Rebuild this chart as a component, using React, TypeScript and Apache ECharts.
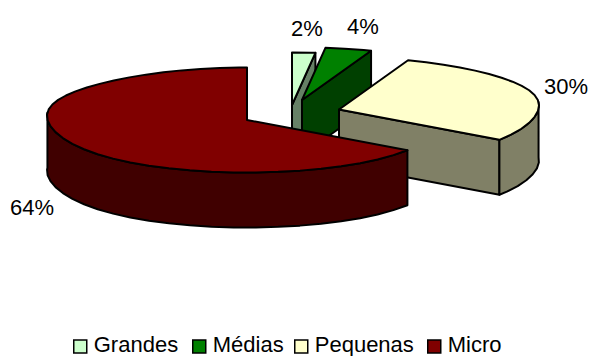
import React, { useEffect, useRef } from "react";
import * as echarts from "echarts";

const categories = ["Grandes", "Médias", "Pequenas", "Micro"];
const shares = [2, 4, 30, 64];
const shareLabels = ["2%", "4%", "30%", "64%"];

const topColors = ["#CCFFCC", "#008000", "#FFFFCC", "#800000"];
const wallColors = ["#668066", "#004000", "#808066", "#400000"];
const apexes = [[292, 105], [302, 100], [339, 109.5], [247, 120]];
const labelAnchors = [[307, 28], [363, 26], [566, 86], [32, 207]];
const legendLefts = [73, 192, 294, 427];
// A square that sits in the lower part of its box, as the reference's swatches sit below the text's centre.
const legendSwatch = "path://M0,0M0,5L13,5L13,18L0,18Z";

const RX = 200;
const RY = 52.5;
const DEPTH = 55;
const STEP = 6;

const total = shares.reduce((a, b) => a + b, 0);
const rad = (d: number) => (d * Math.PI) / 180;
// The reference's 3D projection compresses the angles slightly on the right side.
const warp = (d: number) => d - 3.8 * Math.sin(rad(d));

function rim(ax: number, ay: number, deg: number): number[] {
  const t = rad(warp(deg));
  const s = Math.sin(t);
  return [ax + RX * s, ay - RY * Math.cos(t) - 4 * Math.pow(s, 6)];
}

function arc(ax: number, ay: number, from: number, to: number): number[][] {
  const pts: number[][] = [];
  for (let d = from; d < to; d += STEP) pts.push(rim(ax, ay, d));
  pts.push(rim(ax, ay, to));
  return pts;
}

const down = (p: number[]) => [p[0], p[1] + DEPTH];

function renderSlice(index: number, value: number) {
  const before = shares.slice(0, index).reduce((a, b) => a + b, 0);
  const a0 = (before / total) * 360;
  const a1 = a0 + (value / total) * 360;
  const [ax, ay] = apexes[index];
  const apex = [ax, ay];
  const lineStyle = { stroke: "#000", lineWidth: 2, lineJoin: "round" };
  const children: any[] = [];
  const poly = (points: number[][], fill: string) =>
    children.push({ type: "polygon", shape: { points }, style: { fill, ...lineStyle } });

  if (a1 < 180) {
    const e = rim(ax, ay, a1);
    poly([apex, e, down(e), down(apex)], wallColors[index]);
  }
  const w0 = Math.max(a0, 90);
  const w1 = Math.min(a1, 270);
  if (w1 > w0) {
    const top = arc(ax, ay, w0, w1);
    poly([...top, ...top.map(down).reverse()], wallColors[index]);
  }
  poly([apex, ...arc(ax, ay, a0, a1)], topColors[index]);
  children.push({
    type: "text",
    style: {
      text: shareLabels[index],
      x: labelAnchors[index][0],
      y: labelAnchors[index][1],
      align: "center",
      verticalAlign: "middle",
      fontFamily: "Liberation Sans",
      fontSize: 22,
      fill: "#000",
    },
  });
  return { type: "group", children };
}

export default function App() {
  const ref = useRef<HTMLDivElement>(null);
  useEffect(() => {
    const chart = echarts.init(ref.current!, null, { renderer: "svg" });
    chart.setOption({
      animation: false,
      backgroundColor: "#fff",
      legend: categories.map((name, i) => ({
        left: legendLefts[i],
        top: 333,
        padding: 0,
        icon: legendSwatch,
        itemWidth: 13,
        itemHeight: 18,
        itemStyle: { borderColor: "#000", borderWidth: 1.5 },
        textStyle: { fontFamily: "Liberation Sans", fontSize: 22, color: "#000", padding: [0, 0, 0, 2] },
        data: [name],
      })),
      series: categories.map((name, i) => ({
        type: "custom",
        name,
        coordinateSystem: "none",
        silent: true,
        itemStyle: { color: topColors[i] },
        data: [[shares[i]]],
        renderItem: (_p: any, api: any) => renderSlice(i, api.value(0)),
      })),
    });
    return () => chart.dispose();
  }, []);
  return <div ref={ref} style={{ position: "fixed", left: 0, top: 0, width: 593, height: 356 }} />;
}
